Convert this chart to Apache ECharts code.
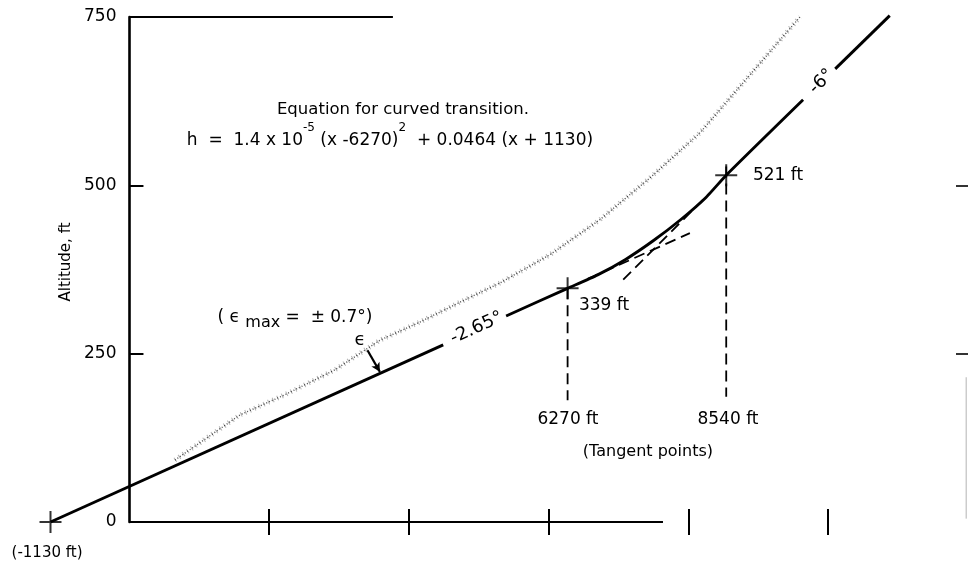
<!DOCTYPE html>
<html><head><meta charset="utf-8">
<script src="https://cdn.jsdelivr.net/npm/echarts@6/dist/echarts.min.js"></script>
<style>html,body{margin:0;padding:0;background:#fff}#c{width:968px;height:567px}</style>
</head><body><div id="c"></div>
<script>
// ---- data (feet) ----
const yTicks = [0, 250, 500, 750];
const xTickValues = [2000, 4000, 6000, 8000, 10000];
const innerYTicks = [250, 500];
// -2.65 deg glide path (lower part, before label gap)
const glideLower = [[-1130, 0], [4490, 263]];
// -2.65 deg path after label gap, curved transition, -6 deg path up to label gap
const glideMiddle = [[5390, 306], [6270, 347], [6700, 367], [7100, 390], [7500, 418], [7900, 450], [8250, 482], [8540, 515], [9640, 627]];
// -6 deg path after label gap
const glideUpper = [[10100, 673], [10880, 752]];
// upper edge of the stippled epsilon band
const stippleEdge = [[651, 92], [1581, 159], [2225, 189], [2941, 226], [3585, 270], [4157, 297], [4801, 330], [5302, 355], [6018, 397], [6733, 449], [7448, 511], [8164, 578], [8879, 664], [9595, 750]];
// dashed tangent extensions
const tangentExtA = [[6560, 361], [8020, 429]];
const tangentExtB = [[7066, 360], [8300, 488]];
// dashed verticals at tangent points
const vertical6270 = [[6270, 347], [6270, 181]];
const vertical8540 = [[8540, 528], [8540, 186]];
// cross markers
const crossPoints = [[-1130, 0], [6270, 347], [8540, 515]];
// frame pieces
const topFrame = [[0, 750], [3770, 750]];
const bottomFrame = [[0, 0], [7635, 0]];
const rightFaint = [[11975, 5], [11975, 215]];
// epsilon arrow
const epsArrow = [[3406, 255], [3584, 223]];
// annotation texts and their anchor points (data units)
const labelTexts = [
  'Equation for curved transition.',
  'h  =  1.4 x 10{sup|-5} (x -6270){sup|2}  + 0.0464 (x + 1130)',
  '( ϵ {sub|max} =  ± 0.7°)',
  'ϵ',
  '-2.65°',
  '-6°',
  '339 ft',
  '521 ft',
  '6270 ft',
  '8540 ft',
  '(Tangent points)',
  '(-1130 ft)'
];
const labelCoords = [[3914, 613], [3728, 567], [2368, 303], [3298, 270], [4968, 288], [9905, 654], [6433, 322], [8922, 514], [6275, 152], [8565, 152], [7420, 104], [-1180, -46]];

// ---- styles ----
const FONT = 'DejaVu Sans';
const INK = '#000';
const labelStyles = [
  {fontSize: 16.5},
  {fontSize: 17, lineHeight: 36},
  {fontSize: 17, lineHeight: 26},
  {fontSize: 18},
  {fontSize: 18, rotate: 24.3},
  {fontSize: 18, rotate: 44.4},
  {fontSize: 17, align: 'left'},
  {fontSize: 17, align: 'left'},
  {fontSize: 17},
  {fontSize: 17},
  {fontSize: 16},
  {fontSize: 15}
];

const chart = echarts.init(document.getElementById('c'), null, {renderer: 'canvas'});

function lineSeries(data, style, extra) {
  return Object.assign({
    type: 'line', data: data, symbol: 'none', clip: false, silent: true,
    animation: false, lineStyle: style
  }, extra || {});
}

const annotationData = labelTexts.map((t, i) => ({
  value: labelCoords[i],
  label: Object.assign({
    show: true, formatter: t, position: 'inside', align: 'center', verticalAlign: 'middle',
    color: INK, fontFamily: FONT, opacity: 1, textBorderWidth: 0, textShadowBlur: 0,
    rich: {
      sup: {fontSize: 12, fontFamily: FONT, color: INK, lineHeight: 12, verticalAlign: 'top', textBorderWidth: 0},
      sub: {fontSize: 16, fontFamily: FONT, color: INK, lineHeight: 12, verticalAlign: 'bottom', textBorderWidth: 0}
    }
  }, labelStyles[i])
}));

const xMin = -1130, xMax = 12000;
const gridLeft = 50.5;
// the y axis stands at x = 0: 1130 ft right of the grid's left edge
const yAxisShift = -(1130 * (968 - gridLeft) / (xMax - xMin));
const option = {
  animation: false,
  backgroundColor: '#fff',
  grid: {left: gridLeft, right: 0, top: 17, bottom: 45, containLabel: false, outerBoundsMode: 'none'},
  xAxis: [
    {type: 'value', min: xMin, max: xMax, position: 'bottom',
     axisLine: {show: false}, splitLine: {show: false}, axisLabel: {show: false},
     axisTick: {show: true, inside: true, length: 13, customValues: xTickValues, lineStyle: {color: INK, width: 2}}},
    {type: 'value', min: xMin, max: xMax, position: 'top',
     axisLine: {show: false}, splitLine: {show: false}, axisLabel: {show: false},
     axisTick: {show: true, inside: true, length: 13, customValues: xTickValues, lineStyle: {color: INK, width: 2}}}
  ],
  yAxis: [
    {type: 'value', min: 0, max: 750, interval: 250, position: 'left', offset: yAxisShift,
     axisLine: {show: true, onZero: false, lineStyle: {color: INK, width: 2.6}},
     axisTick: {show: true, inside: true, length: 14, customValues: innerYTicks, lineStyle: {color: INK, width: 2}},
     axisLabel: {show: true, customValues: yTicks, color: INK, fontFamily: FONT, fontSize: 17, margin: 13},
     splitLine: {show: false},
     name: 'Altitude, ft', nameLocation: 'middle', nameGap: 56,
     nameTextStyle: {color: INK, fontFamily: FONT, fontSize: 15, padding: [0, 0, 0, 15]}},
    {type: 'value', min: 0, max: 750, interval: 250, position: 'right',
     axisLine: {show: false, onZero: false}, splitLine: {show: false}, axisLabel: {show: false},
     axisTick: {show: true, inside: true, length: 12, customValues: innerYTicks, lineStyle: {color: '#333', width: 2}}}
  ],
  series: [
    lineSeries(stippleEdge, {color: 'rgba(0,0,0,0.3)', width: 5, type: [1, 4]}, {z: 1}),
    lineSeries(stippleEdge, {color: 'rgba(0,0,0,0.7)', width: 1.4, type: [1, 2]}, {z: 1}),
    lineSeries(topFrame, {color: INK, width: 2}),
    lineSeries(bottomFrame, {color: INK, width: 2}),
    lineSeries(rightFaint, {color: '#ccc', width: 1.5}),
    lineSeries(glideLower, {color: INK, width: 2.9}, {z: 3}),
    lineSeries(glideMiddle, {color: INK, width: 2.9}, {z: 3, smooth: 0.2}),
    lineSeries(glideUpper, {color: INK, width: 2.9}, {z: 3}),
    lineSeries(tangentExtA, {color: INK, width: 1.8, type: [11, 6]}),
    lineSeries(tangentExtB, {color: INK, width: 1.8, type: [11, 6]}),
    lineSeries(vertical6270, {color: INK, width: 1.8, type: [11, 6]}),
    lineSeries(vertical8540, {color: INK, width: 1.8, type: [11, 6]}),
    {type: 'scatter', data: crossPoints, clip: false, silent: true, animation: false, z: 4,
     symbol: 'path://M0,10 H22 V12 H0 Z M10,0 H12 V22 H10 Z', symbolSize: 22,
     itemStyle: {color: INK}},
    {type: 'scatter', data: annotationData, clip: false, silent: true, animation: false, z: 5,
     symbolSize: 1, itemStyle: {color: 'rgba(0,0,0,0)'},
     markLine: {silent: true, animation: false, symbol: ['none', 'arrow'], symbolSize: [7, 9],
       label: {show: false}, lineStyle: {color: INK, width: 2.2, type: 'solid'},
       data: [[{coord: epsArrow[0]}, {coord: epsArrow[1]}]]}}
  ]
};
chart.setOption(option);
</script></body></html>
